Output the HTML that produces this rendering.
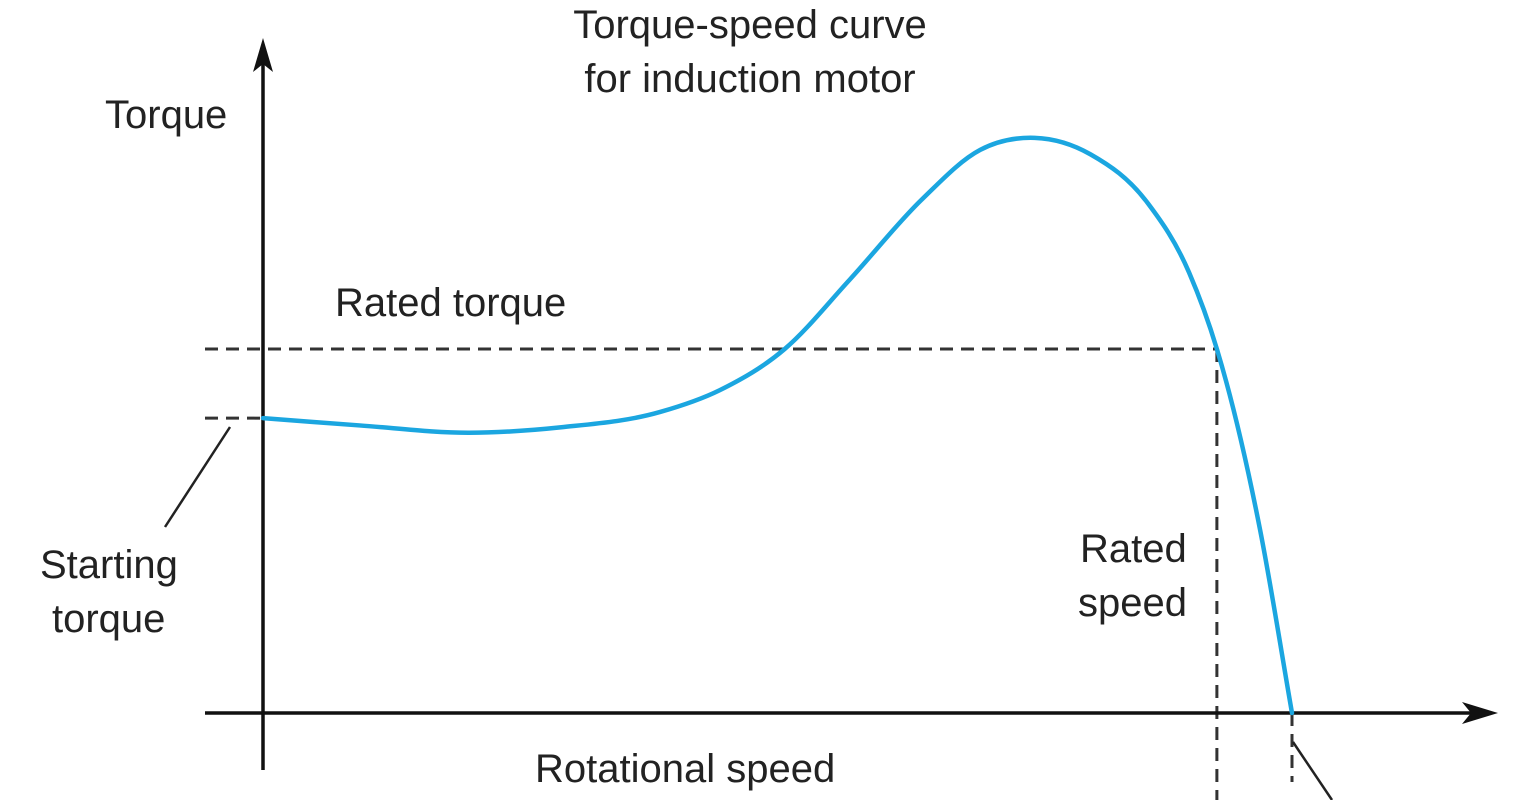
<!DOCTYPE html>
<html><head><meta charset="utf-8"><style>
html,body{margin:0;padding:0;background:#fff;}
svg{display:block;}
text{font-family:"Liberation Sans",sans-serif;fill:#222;font-size:40px;}
</style></head><body>
<svg id="chart" width="1540" height="800">
<text x="750" y="38" text-anchor="middle">Torque-speed curve</text>
<text x="750" y="92" text-anchor="middle">for induction motor</text>
<text x="105" y="128">Torque</text>
<text x="335" y="316">Rated torque</text>
<text x="40" y="578">Starting</text>
<text x="52" y="632">torque</text>
<text x="1080" y="562">Rated</text>
<text x="1078" y="616">speed</text>
<text x="535" y="782">Rotational speed</text>
<g id="axes"></g>
<g id="marks"></g>
</svg>
<script>
const speed =  [0, 9.4, 20, 29, 38.6, 44.4, 50.7, 57, 64, 69.7, 75, 80.4, 86, 90, 92.7, 96.9, 100];
const torque = [81, 79, 77, 78.5, 82.7, 88.7, 100, 119, 141, 154.7, 158, 153.5, 140, 121, 100, 50.3, 0];
const ratedTorque = [100];
const ratedSpeed = [92.7];
const startTorque = [81];
const syncSpeed = [100];

const NS = "http://www.w3.org/2000/svg";
const X0 = 263, Y0 = 713;
function xs(s){ return X0 + s * (1292 - 263) / 100; }
function ys(t){ return Y0 - t * 3.64; }
const axes = document.getElementById('axes');
const marks = document.getElementById('marks');
function mk(tag, attrs, parent){
  const e = document.createElementNS(NS, tag);
  for (const k in attrs) e.setAttribute(k, attrs[k]);
  parent.appendChild(e);
  return e;
}
const dash = {stroke:'#333','stroke-width':3,'stroke-dasharray':'13 8',fill:'none'};

let e;
e = mk('line', {x1:205,y1:ys(ratedTorque[0]),x2:xs(ratedSpeed[0]),y2:ys(ratedTorque[0]),...dash}, axes);


e = mk('line', {x1:xs(ratedSpeed[0]),y1:ys(ratedTorque[0]),x2:xs(ratedSpeed[0]),y2:800,...dash}, axes);


e = mk('line', {x1:205,y1:ys(startTorque[0]),x2:X0,y2:ys(startTorque[0]),...dash}, axes);


e = mk('line', {x1:xs(syncSpeed[0]),y1:Y0,x2:xs(syncSpeed[0]),y2:782,...dash}, axes);


e = mk('line', {x1:230,y1:427,x2:165,y2:527,stroke:'#222','stroke-width':2.5}, axes);


e = mk('line', {x1:xs(syncSpeed[0])+1,y1:742,x2:1332,y2:800,stroke:'#222','stroke-width':2.5}, axes);



e = mk('line', {x1:X0,y1:770,x2:X0,y2:55,stroke:'#111','stroke-width':3.5}, axes);


e = mk('polygon', {points:'263,38 253,72 263,64 273,72',fill:'#111'}, axes);


e = mk('line', {x1:205,y1:Y0,x2:1480,y2:Y0,stroke:'#111','stroke-width':3.5}, axes);


e = mk('polygon', {points:'1498,713 1462,702 1471,713 1462,724',fill:'#111'}, axes);



const P = speed.map((s,i)=>[xs(s), ys(torque[i])]);
const n = P.length;
const h = [], dl = [];
for (let i = 0; i < n-1; i++){ h.push(P[i+1][0]-P[i][0]); dl.push((P[i+1][1]-P[i][1])/h[i]); }
const m = [];
for (let i = 0; i < n; i++){
  if (i === 0) m.push(dl[0]);
  else if (i === n-1) m.push(dl[n-2]);
  else m.push((dl[i-1]*h[i] + dl[i]*h[i-1])/(h[i-1]+h[i]));
}
let d = 'M' + P[0][0].toFixed(2) + ',' + P[0][1].toFixed(2);
for (let i = 0; i < n-1; i++){
  const c1x = P[i][0] + h[i]/3, c1y = P[i][1] + m[i]*h[i]/3;
  const c2x = P[i+1][0] - h[i]/3, c2y = P[i+1][1] - m[i+1]*h[i]/3;
  d += ' C' + c1x.toFixed(2) + ',' + c1y.toFixed(2) + ' ' + c2x.toFixed(2) + ',' + c2y.toFixed(2) + ' ' + P[i+1][0].toFixed(2) + ',' + P[i+1][1].toFixed(2);
}
e = mk('path', {d:d, stroke:'#1ba6e0','stroke-width':4.5,fill:'none','stroke-linecap':'round','stroke-linejoin':'round'}, marks);


</script>
</body></html>
